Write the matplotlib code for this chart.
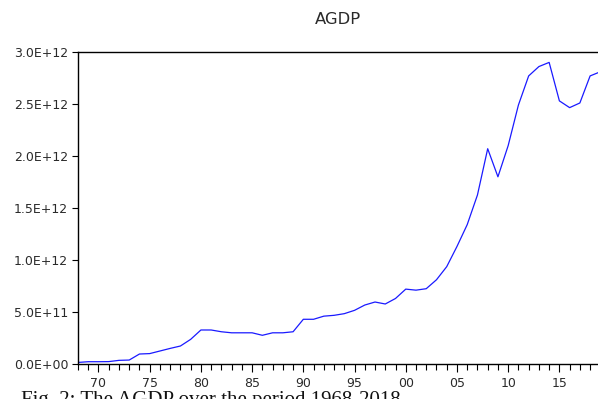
import matplotlib
matplotlib.use('Agg')
import matplotlib.pyplot as plt
from matplotlib.ticker import FuncFormatter, MultipleLocator

# annual AGDP, current units
years = list(range(1968, 2020))
agdp = [0.015, 0.022, 0.022, 0.023, 0.035, 0.038, 0.096, 0.100, 0.125, 0.150,
        0.173, 0.237, 0.327, 0.327, 0.310, 0.300, 0.300, 0.300, 0.276, 0.300,
        0.300, 0.310, 0.430, 0.430, 0.460, 0.468, 0.484, 0.516, 0.567, 0.596,
        0.577, 0.630, 0.720, 0.710, 0.724, 0.810, 0.936, 1.130, 1.340, 1.625,
        2.070, 1.800, 2.100, 2.490, 2.770, 2.860, 2.900, 2.530, 2.465, 2.510,
        2.770, 2.810]
agdp = [v * 1e12 for v in agdp]

y_ticks = [0, 0.5e12, 1.0e12, 1.5e12, 2.0e12, 2.5e12, 3.0e12]
x_ticks = list(range(1970, 2019, 5))
caption = 'Fig. 2: The AGDP over the period 1968-2018'

plt.rcParams['font.family'] = 'DejaVu Sans'

fig = plt.figure(figsize=(5.98, 3.99), dpi=100)
ax = fig.add_axes([78 / 598, 35 / 399, 520 / 598, 312 / 399])

ax.plot(years, agdp, color='#1a1aff', linewidth=0.9)

ax.set_xlim(1968, 2018.77)
ax.set_ylim(0, 3.0e12)
ax.set_yticks(y_ticks)
ax.yaxis.set_major_formatter(FuncFormatter(lambda v, p: f'{v:.1E}'))
ax.set_xticks(x_ticks)
ax.xaxis.set_minor_locator(MultipleLocator(1))
ax.xaxis.set_major_formatter(FuncFormatter(lambda v, p: f'{int(v) % 100:02d}'))

for side in ('left', 'bottom', 'top'):
    ax.spines[side].set_linewidth(1.0)
    ax.spines[side].set_color('black')
ax.spines['right'].set_visible(False)

ax.tick_params(axis='y', direction='out', length=4, width=0.8,
               labelsize=9, labelcolor='#2a2a2a', pad=3)
ax.tick_params(axis='x', which='major', direction='out', length=6, width=0.8,
               labelsize=9, labelcolor='#2a2a2a', pad=3.5)
ax.tick_params(axis='x', which='minor', direction='out', length=4, width=0.8)

ax.set_title('AGDP', fontsize=11.8, color='#2a2a2a', pad=20)

# figure caption sits along the bottom edge, partly below the canvas
fig.text(21 / 598, -0.004, caption, fontsize=15, family='Liberation Serif',
         color='#111111', va='center')

fig.savefig('out.png', dpi=100)
